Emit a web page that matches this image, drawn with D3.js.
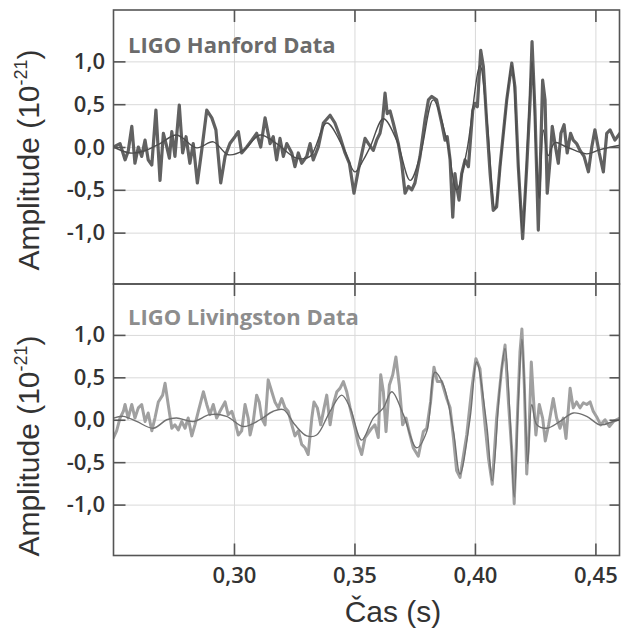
<!DOCTYPE html>
<html>
<head>
<meta charset="utf-8">
<script src="https://cdn.jsdelivr.net/npm/d3@7"></script>
<style>
  html, body { margin: 0; padding: 0; background: #fff; }
  svg { display: block; }
</style>
</head>
<body>
<svg id="chart" width="621" height="632"></svg>
<script>
// ---------------- DATA ----------------
const xTicks = [0.30, 0.35, 0.40, 0.45];
const xTickLabels = ["0,30", "0,35", "0,40", "0,45"];
const yTicks = [1.0, 0.5, 0.0, -0.5, -1.0];
const yTickLabels = ["1,0", "0,5", "0,0", "-0,5", "-1,0"];
const panelNames = ["LIGO Hanford Data", "LIGO Livingston Data"];
const xTitle = "Čas (s)";
const yTitleMain = "Amplitude (10";
const yTitleSup = "-21";

// Hanford measured strain (s, 1e-21)
const hanfordTime = [0.2500,0.2527,0.2548,0.2561,0.2576,0.2589,0.2603,0.2617,0.2631,0.2644,0.2659,0.2676,0.2693,0.2707,0.2718,0.2732,0.2742,0.2755,0.2773,0.2787,0.2801,0.2817,0.2831,0.2848,0.2866,0.2887,0.2908,0.2925,0.2945,0.2963,0.2983,0.3004,0.3018,0.3032,0.3053,0.3074,0.3094,0.3111,0.3129,0.3150,0.3163,0.3177,0.3191,0.3205,0.3219,0.3240,0.3253,0.3267,0.3281,0.3302,0.3316,0.3329,0.3350,0.3371,0.3399,0.3419,0.3440,0.3461,0.3479,0.3498,0.3516,0.3544,0.3558,0.3578,0.3592,0.3606,0.3617,0.3627,0.3636,0.3648,0.3661,0.3682,0.3696,0.3710,0.3724,0.3738,0.3751,0.3772,0.3793,0.3807,0.3821,0.3841,0.3862,0.3876,0.3885,0.3897,0.3908,0.3917,0.3924,0.3934,0.3945,0.3959,0.3973,0.3991,0.4000,0.4010,0.4024,0.4035,0.4049,0.4063,0.4076,0.4090,0.4104,0.4132,0.4153,0.4166,0.4180,0.4198,0.4215,0.4229,0.4237,0.4249,0.4263,0.4273,0.4281,0.4291,0.4300,0.4312,0.4321,0.4332,0.4346,0.4357,0.4370,0.4383,0.4397,0.4408,0.4422,0.4436,0.4453,0.4471,0.4485,0.4498,0.4516,0.4533,0.4547,0.4561,0.4581,0.4602];
const hanfordStrain = [0.00,0.04,-0.15,-0.05,0.24,-0.19,0.00,-0.11,0.08,-0.15,-0.21,0.43,-0.39,0.16,0.04,-0.13,0.18,-0.11,0.49,-0.07,0.12,-0.19,0.04,-0.42,-0.04,0.43,0.34,0.20,-0.42,-0.11,0.04,0.12,0.18,-0.07,0.00,0.08,0.16,0.00,0.34,0.04,0.12,-0.15,0.10,-0.11,0.04,-0.07,-0.23,-0.07,-0.19,-0.11,0.04,-0.15,0.00,0.28,0.37,0.28,0.12,-0.07,-0.19,-0.54,-0.27,0.10,0.04,-0.04,0.08,0.16,0.32,0.63,0.39,0.42,0.28,0.04,-0.19,-0.54,-0.46,-0.50,-0.42,-0.11,0.32,0.55,0.59,0.55,0.28,0.08,0.12,-0.15,-0.82,-0.31,-0.46,-0.62,-0.31,-0.15,-0.23,0.43,0.51,0.47,1.13,0.94,0.28,-0.31,-0.74,-0.70,-0.23,0.55,0.98,0.70,-0.23,-1.07,-0.23,0.55,1.23,0.43,-0.97,-0.04,0.78,0.55,-0.54,-0.15,0.24,0.04,-0.19,0.16,0.26,-0.07,0.16,0.08,0.04,-0.04,-0.11,-0.29,0.00,0.20,-0.07,-0.29,0.16,0.20,0.08,0.16];

// Hanford reconstructed template
const hanfordTplTime = [0.2500,0.2568,0.2624,0.2693,0.2762,0.2845,0.2914,0.2976,0.3039,0.3108,0.3177,0.3260,0.3316,0.3385,0.3454,0.3502,0.3537,0.3565,0.3620,0.3675,0.3731,0.3772,0.3827,0.3883,0.3924,0.3966,0.4021,0.4049,0.4083,0.4118,0.4153,0.4176,0.4198,0.4219,0.4237,0.4253,0.4267,0.4284,0.4304,0.4332,0.4381,0.4464,0.4519,0.4602];
const hanfordTpl = [0.00,-0.07,-0.05,0.04,0.14,-0.01,0.06,-0.09,-0.04,0.14,0.04,-0.13,-0.11,0.28,-0.01,-0.29,-0.15,0.00,0.33,0.08,-0.39,-0.11,0.55,0.08,-0.50,-0.05,0.95,0.35,-0.72,0.15,0.95,0.00,-1.00,0.10,1.00,0.00,-0.60,0.20,-0.10,0.05,0.00,-0.08,-0.03,0.02];

// Livingston measured strain
const livingstonTime = [0.2500,0.2513,0.2527,0.2541,0.2548,0.2561,0.2576,0.2589,0.2603,0.2617,0.2631,0.2644,0.2659,0.2672,0.2686,0.2704,0.2714,0.2727,0.2742,0.2755,0.2769,0.2783,0.2797,0.2810,0.2825,0.2838,0.2852,0.2873,0.2887,0.2900,0.2914,0.2928,0.2942,0.2963,0.2976,0.2991,0.3004,0.3018,0.3032,0.3046,0.3059,0.3067,0.3080,0.3094,0.3105,0.3115,0.3129,0.3142,0.3157,0.3170,0.3184,0.3198,0.3212,0.3225,0.3240,0.3253,0.3267,0.3281,0.3295,0.3308,0.3323,0.3332,0.3346,0.3360,0.3374,0.3385,0.3399,0.3412,0.3427,0.3440,0.3454,0.3468,0.3482,0.3502,0.3516,0.3530,0.3544,0.3572,0.3585,0.3599,0.3609,0.3620,0.3631,0.3645,0.3659,0.3672,0.3686,0.3700,0.3714,0.3727,0.3744,0.3765,0.3786,0.3800,0.3816,0.3830,0.3844,0.3862,0.3883,0.3897,0.3911,0.3924,0.3938,0.3966,0.3987,0.4004,0.4021,0.4042,0.4056,0.4072,0.4090,0.4111,0.4125,0.4139,0.4153,0.4163,0.4176,0.4187,0.4195,0.4205,0.4215,0.4224,0.4234,0.4242,0.4253,0.4267,0.4281,0.4292,0.4306,0.4325,0.4339,0.4353,0.4367,0.4378,0.4395,0.4408,0.4422,0.4436,0.4450,0.4464,0.4478,0.4491,0.4508,0.4522,0.4540,0.4558,0.4575,0.4602];
const livingstonStrain = [-0.21,-0.13,0.02,0.10,0.18,0.02,0.18,0.02,0.14,0.18,-0.02,0.08,-0.13,0.02,0.21,0.29,0.43,0.18,-0.10,-0.06,-0.12,-0.02,-0.10,0.02,-0.19,-0.06,0.10,0.33,0.18,0.06,0.18,0.02,0.10,0.21,0.06,0.10,-0.02,-0.18,-0.13,0.18,0.02,-0.18,-0.02,0.29,0.21,0.02,-0.06,0.47,0.33,0.21,0.14,0.25,0.14,0.10,-0.06,-0.19,-0.13,-0.29,-0.33,-0.41,0.02,0.21,0.14,-0.06,0.14,0.29,-0.06,0.18,0.33,0.37,0.45,0.33,0.14,-0.10,-0.29,-0.41,-0.21,-0.10,-0.06,-0.21,0.53,0.33,-0.14,0.41,0.53,0.74,0.41,-0.06,0.02,-0.14,-0.33,-0.43,-0.14,-0.10,0.21,0.62,0.45,0.45,0.25,0.14,-0.22,-0.60,-0.68,-0.18,0.37,0.72,0.60,-0.06,-0.45,-0.76,0.02,0.60,0.88,0.21,-0.37,-0.99,0.02,0.80,1.07,0.41,-0.64,-0.18,0.68,0.29,-0.18,0.18,0.02,-0.25,-0.06,0.25,0.02,-0.10,0.02,-0.22,0.37,0.14,0.21,0.14,0.20,0.18,0.21,0.10,0.02,-0.06,0.00,-0.08,-0.02,0.02];

// Livingston reconstructed template
const livingstonTplTime = [0.2500,0.2541,0.2596,0.2665,0.2721,0.2762,0.2831,0.2900,0.2969,0.3039,0.3108,0.3163,0.3205,0.3253,0.3302,0.3343,0.3399,0.3447,0.3482,0.3530,0.3578,0.3620,0.3655,0.3703,0.3758,0.3800,0.3834,0.3869,0.3911,0.3938,0.3980,0.4007,0.4049,0.4072,0.4104,0.4125,0.4146,0.4163,0.4180,0.4195,0.4208,0.4219,0.4236,0.4257,0.4299,0.4353,0.4408,0.4464,0.4519,0.4575,0.4602];
const livingstonTpl = [0.02,0.04,-0.02,-0.10,0.00,0.02,-0.02,0.06,0.04,-0.08,0.00,0.10,0.12,-0.06,-0.19,-0.18,0.10,0.29,0.14,-0.24,0.02,0.14,0.33,0.06,-0.33,-0.14,0.56,0.41,-0.14,-0.64,0.02,0.68,-0.06,-0.72,0.41,0.84,0.02,-0.91,0.21,0.95,0.21,-0.52,0.18,-0.06,-0.10,-0.02,0.08,0.04,-0.06,-0.02,0.00];

// ---------------- CHART ----------------
const svg = d3.select("#chart");
const left = 113.5, right = 619.5;
const x = d3.scaleLinear().domain([0.25, 0.46]).range([left, right]);

const panels = [
  { top: 10, bottom: 284, name: panelNames[0], nameColor: "#6b6b6b", nameY: 53,
    t: hanfordTime, v: hanfordStrain, tt: hanfordTplTime, tv: hanfordTpl,
    dataColor: "#616161", dataWidth: 3.2, tplColor: "#4d4d4d", tplWidth: 1.4, titleY: 160 },
  { top: 284, bottom: 555.5, name: panelNames[1], nameColor: "#8d8d8d", nameY: 325,
    t: livingstonTime, v: livingstonStrain, tt: livingstonTplTime, tv: livingstonTpl,
    dataColor: "#a0a0a0", dataWidth: 3.0, tplColor: "#707070", tplWidth: 1.4, titleY: 446 }
];

const fmtX = d => xTickLabels[xTicks.indexOf(d)];
const fmtY = d => yTickLabels[yTicks.indexOf(d)];

panels.forEach((p, i) => {
  const y = d3.scaleLinear().domain([-1.6, 1.6]).range([p.bottom, p.top]);
  const g = svg.append("g");
  const w = right - left, h = p.bottom - p.top;

  // grid
  g.append("g").attr("transform", `translate(0,${p.bottom})`)
    .call(d3.axisBottom(x).tickValues(xTicks).tickSize(-h).tickFormat(""))
    .call(s => s.select(".domain").remove())
    .call(s => s.selectAll("line").attr("stroke", "#d9d9d9").attr("stroke-width", 1));
  g.append("g").attr("transform", `translate(${left},0)`)
    .call(d3.axisLeft(y).tickValues(yTicks).tickSize(-w).tickFormat(""))
    .call(s => s.select(".domain").remove())
    .call(s => s.selectAll("line").attr("stroke", "#d9d9d9").attr("stroke-width", 1));

  // clip
  const cid = "clip" + i;
  svg.append("clipPath").attr("id", cid).append("rect")
    .attr("x", left).attr("y", p.top).attr("width", w).attr("height", h);
  const plot = g.append("g").attr("clip-path", `url(#${cid})`);

  const dataPts = p.t.map((t, k) => [t, p.v[k]]);
  const tplPts = p.tt.map((t, k) => [t, p.tv[k]]);

  plot.append("path").datum(dataPts)
    .attr("fill", "none").attr("stroke", p.dataColor).attr("stroke-width", p.dataWidth)
    .attr("stroke-linejoin", "round").attr("stroke-linecap", "round")
    .attr("d", d3.line().x(d => x(d[0])).y(d => y(d[1])));
  plot.append("path").datum(tplPts)
    .attr("fill", "none").attr("stroke", p.tplColor).attr("stroke-width", p.tplWidth)
    .attr("d", d3.line().curve(d3.curveCatmullRom.alpha(0.5)).x(d => x(d[0])).y(d => y(d[1])));

  // frame
  g.append("rect").attr("x", left).attr("y", p.top).attr("width", w).attr("height", h)
    .attr("fill", "none").attr("stroke", "#555").attr("stroke-width", 1.6);

  // inward ticks
  const tickStyle = s => {
    s.select(".domain").remove();
    s.selectAll(".tick line").attr("stroke", "#555").attr("stroke-width", 1.6);
  };
  const yl = g.append("g").attr("transform", `translate(${left},0)`)
    .call(d3.axisLeft(y).tickValues(yTicks).tickSize(-12).tickPadding(8.5).tickFormat(fmtY))
    .call(tickStyle);
  yl.selectAll("text").attr("font-family", "'Open Sans', sans-serif").attr("font-weight", 600)
    .attr("font-size", 22).attr("fill", "#333");
  g.append("g").attr("transform", `translate(${right},0)`)
    .call(d3.axisRight(y).tickValues(yTicks).tickSize(-10).tickFormat(""))
    .call(tickStyle);
  g.append("g").attr("transform", `translate(0,${p.top})`)
    .call(d3.axisTop(x).tickValues(xTicks).tickSize(-12).tickFormat(""))
    .call(tickStyle);
  const xb = g.append("g").attr("transform", `translate(0,${p.bottom})`)
    .call(d3.axisBottom(x).tickValues(xTicks).tickSize(-12).tickPadding(11.5)
      .tickFormat(i === 1 ? fmtX : ""))
    .call(tickStyle);
  xb.selectAll("text").attr("font-family", "'Open Sans', sans-serif").attr("font-weight", 600)
    .attr("font-size", 22).attr("fill", "#333");

  // panel label
  g.append("text").attr("x", 128).attr("y", p.nameY)
    .attr("font-family", "'Open Sans', sans-serif").attr("font-weight", 700)
    .attr("font-size", 22).attr("fill", p.nameColor).text(p.name);

  // y title
  const yt = svg.append("text")
    .attr("transform", `translate(39,${p.titleY}) rotate(-90)`)
    .attr("text-anchor", "middle")
    .attr("font-family", "'Liberation Sans', Arial, sans-serif")
    .attr("font-size", 30).attr("fill", "#333");
  yt.append("tspan").text(yTitleMain);
  yt.append("tspan").attr("font-size", 18).attr("dy", -12).text(yTitleSup);
  yt.append("tspan").attr("dy", 12).text(")");
});

svg.append("text").attr("x", 393).attr("y", 622).attr("text-anchor", "middle")
  .attr("font-family", "'Liberation Sans', Arial, sans-serif")
  .attr("font-size", 30).attr("fill", "#333").text(xTitle);
</script>
</body>
</html>
